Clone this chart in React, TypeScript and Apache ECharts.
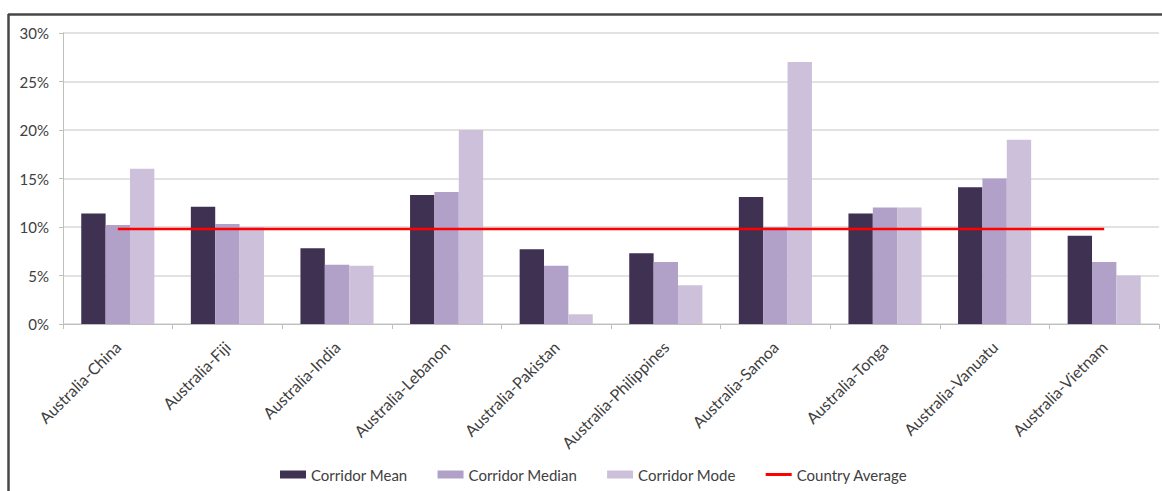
import React, { useEffect, useRef } from "react";
import * as echarts from "echarts";

// Remittance corridor costs out of Australia
const corridors = [
  "Australia-China",
  "Australia-Fiji",
  "Australia-India",
  "Australia-Lebanon",
  "Australia-Pakistan",
  "Australia-Philippines",
  "Australia-Samoa",
  "Australia-Tonga",
  "Australia-Vanuatu",
  "Australia-Vietnam",
];

const corridorMean = [11.4, 12.1, 7.8, 13.3, 7.7, 7.3, 13.1, 11.4, 14.1, 9.1];
const corridorMedian = [10.2, 10.3, 6.1, 13.6, 6.0, 6.4, 10.0, 12.0, 15.0, 6.4];
const corridorMode = [16, 10, 6, 20, 1, 4, 27, 12, 19, 5];
const countryAverage = [9.8, 9.8, 9.8, 9.8, 9.8, 9.8, 9.8, 9.8, 9.8, 9.8];

const FONT = "Lato";
const TEXT = "#404040";

export default function App() {
  const ref = useRef<HTMLDivElement>(null);

  useEffect(() => {
    if (!ref.current) return;
    const chart = echarts.init(ref.current, null, { renderer: "svg" });

    const lineIcon = "path://M0,0 H26 V3 H0 Z";

    chart.setOption({
      animation: false,
      backgroundColor: "#ffffff",
      textStyle: { fontFamily: FONT },
      graphic: [
        {
          type: "line",
          shape: { x1: 8, y1: 14.5, x2: 1162, y2: 14.5 },
          style: { stroke: "#474747", lineWidth: 2.5 },
          silent: true,
        },
        {
          type: "line",
          shape: { x1: 8.5, y1: 14, x2: 8.5, y2: 491 },
          style: { stroke: "#474747", lineWidth: 2.5 },
          silent: true,
        },
      ],
      grid: { left: 63, right: 3, top: 33, bottom: 167, containLabel: false },
      legend: {
        left: 275,
        top: 462,
        itemWidth: 26,
        itemHeight: 8,
        itemGap: 30,
        textStyle: { fontFamily: FONT, fontSize: 15, color: TEXT },
        data: [
          { name: "Corridor Mean", icon: "rect" },
          { name: "Corridor Median", icon: "rect" },
          { name: "Corridor Mode", icon: "rect" },
          { name: "Country Average", icon: lineIcon },
        ],
      },
      xAxis: {
        type: "category",
        data: corridors,
        axisLine: { lineStyle: { color: "#BFBFBF", width: 1 } },
        axisTick: { show: true, length: 5, lineStyle: { color: "#BFBFBF" } },
        axisLabel: {
          rotate: 45,
          margin: 20,
          fontFamily: FONT,
          fontSize: 16,
          color: TEXT,
        },
      },
      yAxis: {
        type: "value",
        min: 0,
        max: 30,
        interval: 5,
        axisLine: { show: true, lineStyle: { color: "#BFBFBF" } },
        axisTick: { show: true, length: 4, lineStyle: { color: "#BFBFBF" } },
        splitLine: { lineStyle: { color: "#D9D9D9", width: 1.5 } },
        axisLabel: {
          formatter: "{value}%",
          margin: 14,
          fontFamily: FONT,
          fontSize: 15,
          color: TEXT,
        },
      },
      series: [
        {
          name: "Corridor Mean",
          type: "bar",
          data: corridorMean,
          barGap: "0%",
          barCategoryGap: "33.3%",
          itemStyle: { color: "#3F3151" },
        },
        {
          name: "Corridor Median",
          type: "bar",
          data: corridorMedian,
          itemStyle: { color: "#B1A0C7" },
        },
        {
          name: "Corridor Mode",
          type: "bar",
          data: corridorMode,
          itemStyle: { color: "#CCC0DA" },
        },
        {
          name: "Country Average",
          type: "line",
          data: countryAverage,
          symbol: "none",
          z: 5,
          itemStyle: { color: "#FF0000" },
          lineStyle: { color: "#FF0000", width: 2.5 },
        },
      ],
    });

    return () => chart.dispose();
  }, []);

  return (
    <div
      ref={ref}
      style={{ position: "fixed", left: 0, top: 0, width: 1162, height: 491 }}
    />
  );
}
